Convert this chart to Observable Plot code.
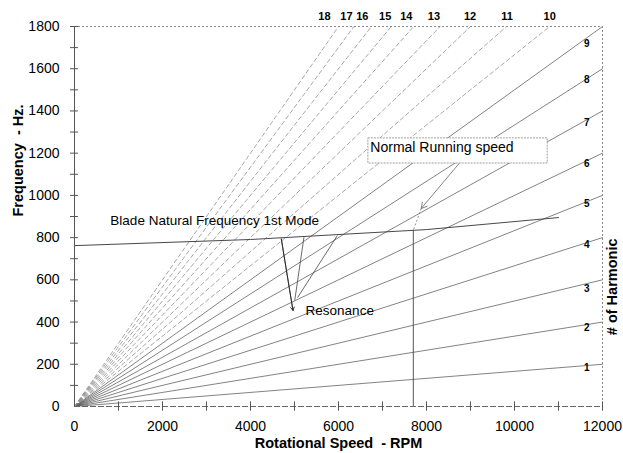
<!DOCTYPE html>
<html><head><meta charset="utf-8">
<script src="https://cdn.jsdelivr.net/npm/d3@7"></script>
<script src="https://cdn.jsdelivr.net/npm/@observablehq/plot@0.6"></script>
<style>body{margin:0;background:#fff} svg{display:block}</style>
</head><body><div id="chart"></div>
<script>
// ---- data ----
const harmonics   = [1,2,3,4,5,6,7,8,9,10,11,12,13,14,15,16,17,18];
const endRpm      = [12000,12000,12000,12000,12000,12000,12000,12000,12000,10800,9820,9000,8310,7710,7200,6750,6350,6000];
const endFreq     = [200,400,600,800,1000,1200,1400,1600,1800,1800,1800,1800,1800,1800,1800,1800,1800,1800];
const rightLabelNum  = [1,2,3,4,5,6,7,8,9];
const rightLabelFreq = [185,374,559,767,962,1151,1345,1549,1720];
const rightLabelRpm  = 11640;
const topLabelNum = [10,11,12,13,14,15,16,17,18];
const topLabelRpm = [10800,9830,8990,8170,7540,7060,6540,6180,5680];
const topLabelFreq = 1847;
const bladeRpm  = [0,4000,8000,11000];
const bladeFreq = [762,791,838,895];
const runningRpm = 7700, runningTopFreq = 835;
const xTickLabels = [0,2000,4000,6000,8000,10000,12000];
const yTickLabels = [0,200,400,600,800,1000,1200,1400,1600,1800];
const xTickMarks = [1000,2000,3000,4000,5000,6000,7000,8000,9000,10000,11000,12000];
const yTickMarks = [100,200,300,400,500,600,700,800,900,1000,1100,1200,1300,1400,1500,1600,1700,1800];
const resonanceFrom = [[4700,794],[5215,802],[5975,810]];
const resonanceTo   = [[4965,455],[5005,502],[5070,516]];
const boxX = [6679,10754], boxY = [1151,1270];
const runArrowFrom = [8740,1151], runArrowTo = [7880,938];

// ---- derived tables ----
const lines = harmonics.flatMap((n,i)=>[{n,rpm:0,freq:0},{n,rpm:endRpm[i],freq:endFreq[i]}]);
const blade = bladeRpm.map((r,i)=>({rpm:r,freq:bladeFreq[i]}));
const res = resonanceFrom.map((f,i)=>({x1:f[0],y1:f[1],x2:resonanceTo[i][0],y2:resonanceTo[i][1]}));

const font = "Liberation Sans, Arial, Helvetica, sans-serif";
const chart = Plot.plot({
  width: 623, height: 453,
  marginLeft: 74, marginRight: 21, marginTop: 26, marginBottom: 47,
  style: {fontFamily: font, background: "#fff", color: "#000"},
  x: {domain: [0,12000]},
  y: {domain: [0,1800]},
  marks: [
    Plot.line(lines.filter(d=>d.n<=9), {x:"rpm", y:"freq", z:"n", stroke:"#5a5a5a", strokeWidth:0.75}),
    Plot.line(lines.filter(d=>d.n>9), {x:"rpm", y:"freq", z:"n", stroke:"#8a8a8a", strokeWidth:0.75, strokeDasharray:"4,3"}),
    Plot.line(blade, {x:"rpm", y:"freq", stroke:"#333", strokeWidth:0.9}),
    Plot.ruleX([runningRpm], {y1:0, y2:runningTopFreq, stroke:"#444", strokeWidth:0.9}),
    Plot.link(res, {x1:"x1", y1:"y1", x2:"x2", y2:"y2", stroke:"#444", strokeWidth:0.8, strokeDasharray:(d,i)=>i===2?"2,2":null}),
    Plot.arrow([res[0]], {x1:"x1", y1:"y1", x2:"x2", y2:"y2", stroke:"#222", strokeWidth:0.9, headLength:6, bend:0}),
    Plot.rect([{}], {x1:boxX[0], x2:boxX[1], y1:boxY[0], y2:boxY[1], fill:"#fff", stroke:"#888", strokeWidth:0.8, strokeDasharray:"2,1"}),
    Plot.arrow([{}], {x1:runArrowFrom[0], y1:runArrowFrom[1], x2:runArrowTo[0], y2:runArrowTo[1], stroke:"#666", strokeWidth:0.8, headLength:12}),
    Plot.link([{}], {x1:runArrowTo[0], y1:runArrowTo[1], x2:runningRpm, y2:runningTopFreq, stroke:"#777", strokeWidth:0.8, strokeDasharray:"2,2"}),
    // frame
    Plot.ruleX([0], {stroke:"#555", strokeWidth:1}),
    Plot.ruleY([0], {stroke:"#666", strokeWidth:1, strokeDasharray:"6,2"}),
    Plot.ruleY([1800], {stroke:"#888", strokeWidth:1, strokeDasharray:"2,2"}),
    Plot.ruleX([12000], {stroke:"#888", strokeWidth:1, strokeDasharray:"2,2"}),
    Plot.ruleX(xTickMarks, {x:d=>d, y1:-22, y2:22, stroke:"#555"}),
    Plot.ruleY(yTickMarks, {y:d=>d, x1:-90, x2:90, stroke:"#555"}),
    Plot.axisX({ticks: xTickLabels, tickFormat: d=>String(d), tickSize: 0, tickPadding: 15, fontSize: 14, label: null}),
    Plot.axisY({ticks: yTickLabels, tickFormat: d=>String(d), tickSize: 0, tickPadding: 15, fontSize: 14, label: null}),
    // labels
    Plot.text(rightLabelNum, {x: rightLabelRpm, y:(d,i)=>rightLabelFreq[i], text:d=>String(d), fontSize:10, fontWeight:"bold", fill:"#000"}),
    Plot.text(topLabelNum, {x:(d,i)=>topLabelRpm[i], y: topLabelFreq, text:d=>String(d), fontSize:11, fontWeight:"bold", fill:"#000"}),
    Plot.text(["Blade Natural Frequency 1st Mode"], {x:815, y:881, text:d=>d, textAnchor:"start", fontSize:13.5, fill:"#000"}),
    Plot.text(["Resonance"], {x:5252, y:455, text:d=>d, textAnchor:"start", fontSize:13.5, fill:"#000"}),
    Plot.text(["Normal Running speed"], {x:6724, y:1227, text:d=>d, textAnchor:"start", fontSize:14, fill:"#000"}),
    Plot.text(["Rotational Speed  - RPM"], {frameAnchor:"bottom", dy:41, text:d=>d, fontSize:14.5, fontWeight:"bold", fill:"#000"}),
    Plot.text(["Frequency  - Hz."], {frameAnchor:"left", dx:-56, rotate:-90, text:d=>d, fontSize:14.5, fontWeight:"bold", fill:"#000"}),
    Plot.text(["# of Harmonic"], {frameAnchor:"right", dx:10, dy:22, rotate:-90, text:d=>d, fontSize:14.5, fontWeight:"bold", fill:"#000"})
  ]
});
document.getElementById("chart").appendChild(chart);
</script>
</body></html>
